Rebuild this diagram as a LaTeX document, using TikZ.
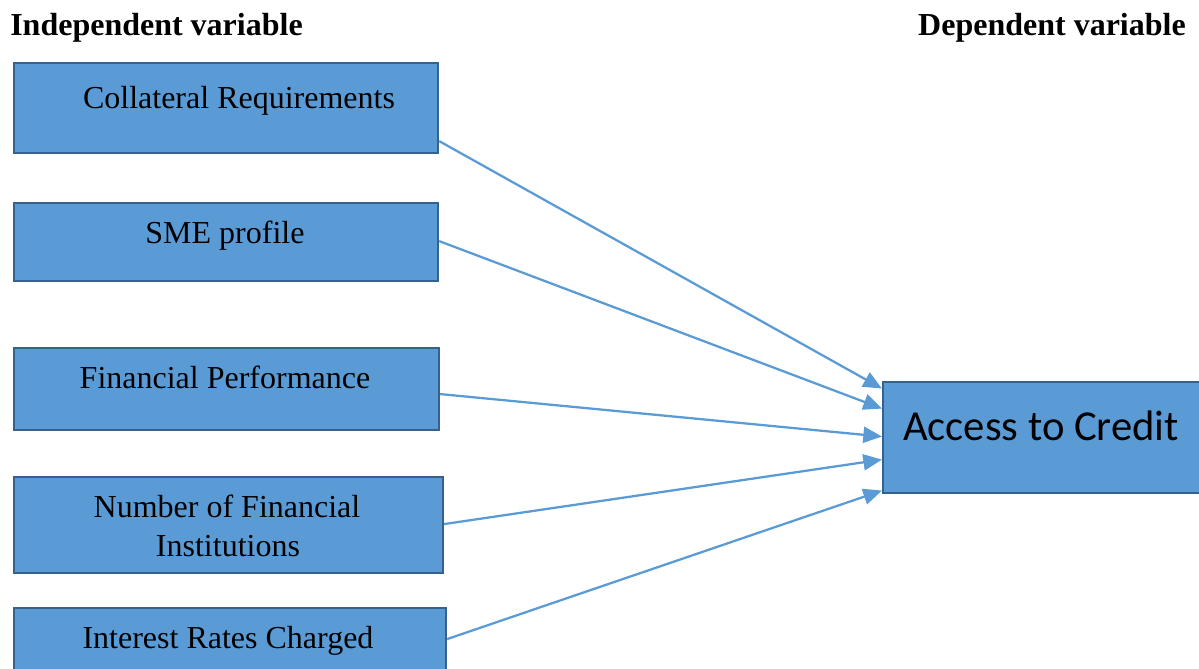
\documentclass[tikz,border=0pt]{standalone}
\usepackage{fontspec}
\setmainfont{Liberation Serif}
\newfontfamily\calibrifont{Carlito}
\usetikzlibrary{arrows.meta}
\definecolor{boxfill}{HTML}{5B9BD5}
\definecolor{boxline}{HTML}{35618E}
\tikzset{
  varbox/.style={draw=boxline, fill=boxfill, line width=1.6pt, anchor=north west, inner sep=0pt},
  boxtext/.style={anchor=base, inner sep=0.75pt, font=\fontsize{24}{28}\selectfont},
  headtext/.style={anchor=base west, inner sep=0pt, font=\fontsize{24}{28}\selectfont\bfseries},
  conn/.style={draw=boxfill, line width=1.7pt, -{Triangle[length=14pt,width=12pt]}}
}
\begin{document}
\begin{tikzpicture}[x=0.75pt,y=0.75pt,yscale=-1,xscale=1]
\useasboundingbox (0,0) rectangle (1199,668);

%Headers
\node[headtext] (indep) at (10,35) {Independent variable};
\node[headtext, anchor=base east] (dep) at (1186,35) {Dependent variable};

%Shape: Rectangles (independent variables)
\node[varbox, minimum width=318pt, minimum height=67.5pt] (coll) at (13,62) {};
\node[varbox, minimum width=318pt, minimum height=58.5pt] (sme) at (13,202) {};
\node[varbox, minimum width=318.75pt, minimum height=61.5pt] (fin) at (13,347) {};
\node[varbox, minimum width=321.75pt, minimum height=72pt] (nfi) at (13,476) {};
\node[varbox, minimum width=324pt, minimum height=69.75pt] (irc) at (13,607) {};
%Shape: Rectangle (dependent variable)
\node[varbox, minimum width=246.75pt, minimum height=83.25pt] (acc) at (882,381) {};

% Text Node
\node[boxtext] (collt) at (239,108) {Collateral Requirements};
\node[boxtext] (smet) at (225,243) {SME profile};
\node[boxtext] (fint) at (225,388) {Financial Performance};
\node[boxtext] (nfit) at (227,517) {Number of Financial};
\node[boxtext] (nfit2) at (228,556) {Institutions};
\node[boxtext] (irct) at (228,648) {Interest Rates Charged};
\node[boxtext, font=\calibrifont\fontsize{32}{38}\selectfont] (acct) at (1041,440) {Access to Credit};

%Straight Lines
\draw[conn] ([shift={(0,33)}]coll.east) -- ([shift={(0,-49)}]acc.west);
\draw[conn] ([shift={(0,-1)}]sme.east) -- ([shift={(0,-29)}]acc.west);
\draw[conn] ([shift={(0,5)}]fin.east) -- ([shift={(0,-1)}]acc.west);
\draw[conn] ([shift={(0,-1)}]nfi.east) -- ([shift={(0,22)}]acc.west);
\draw[conn] ([shift={(0,-15.5)}]irc.east) -- ([shift={(0,53)}]acc.west);
\end{tikzpicture}
\end{document}
